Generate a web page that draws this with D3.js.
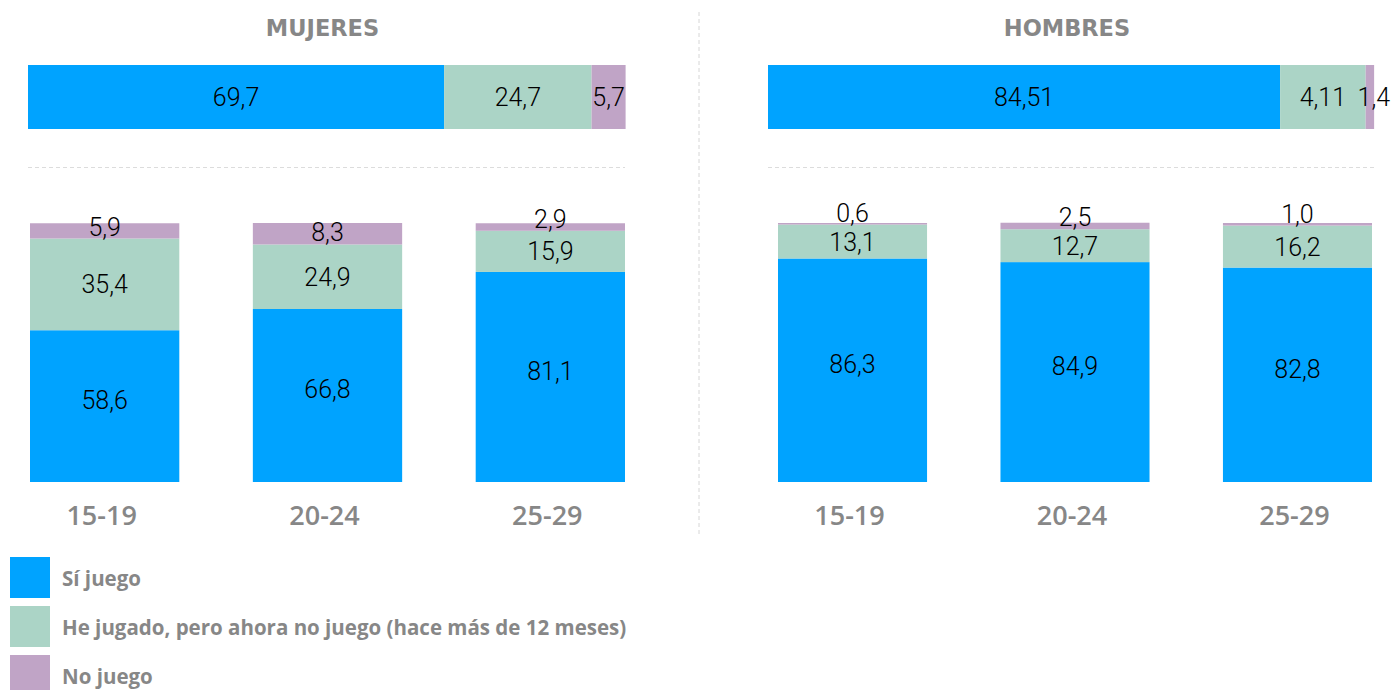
<!DOCTYPE html>
<html><head><meta charset="utf-8">
<script src="https://cdn.jsdelivr.net/npm/d3@7"></script>
<style>body{margin:0;background:#fff}svg{display:block}</style>
</head><body><svg id="c" width="1392" height="690"></svg>
<script>
const series = ["Sí juego", "He jugado, pero ahora no juego (hace más de 12 meses)", "No juego"];
const colors = ["#00A3FF", "#ABD4C6", "#C0A4C6"];
const ageGroups = ["15-19", "20-24", "25-29"];
const panels = ["MUJERES", "HOMBRES"];
const mujeresTotal = [69.7, 24.7, 5.7];
const hombresTotal = [84.51, 14.11, 1.4];
const mujeresTotalLabels = ["69,7", "24,7", "5,7"];
const hombresTotalLabels = ["84,51", "4,11", "1,4"];
const mujeresSi = [58.6, 66.8, 81.1];
const mujeresHe = [35.4, 24.9, 15.9];
const mujeresNo = [5.9, 8.3, 2.9];
const hombresSi = [86.3, 84.9, 82.8];
const hombresHe = [13.1, 12.7, 16.2];
const hombresNo = [0.6, 2.5, 1.0];

const svg = d3.select("#c");
const grey = "#878787";
const valFont = "Roboto, 'Liberation Sans', sans-serif";
const boldFont = "'Open Sans', 'Liberation Sans', sans-serif";
const titleFont = "'DejaVu Sans', 'Open Sans', sans-serif";
const fmt = v => d3.format(".1f")(v).replace(".", ",");

const panelData = [
  {title: panels[0], total: mujeresTotal, totalLabels: mujeresTotalLabels, si: mujeresSi, he: mujeresHe, no: mujeresNo, topRange: [28, 625], bandRange: [30, 625]},
  {title: panels[1], total: hombresTotal, totalLabels: hombresTotalLabels, si: hombresSi, he: hombresHe, no: hombresNo, topRange: [768, 1374], bandRange: [778, 1372]}
];

// divider
svg.append("line").attr("x1", 699).attr("x2", 699).attr("y1", 12).attr("y2", 535)
  .attr("stroke", "#d6d6d6").attr("stroke-width", 1).attr("stroke-dasharray", "4,3");

const y = d3.scaleLinear().domain([0, 100]).range([482, 223]);

panelData.forEach(p => {
  const g = svg.append("g");
  const xt = d3.scaleLinear().domain([0, 100]).range(p.topRange);
  // title
  g.append("text").attr("x", (p.topRange[0] + p.topRange[1]) / 2 - 4).attr("y", 36)
    .attr("text-anchor", "middle").attr("font-family", titleFont).attr("font-weight", 700)
    .attr("font-size", 22.5).attr("fill", grey).text(p.title);
  // top stacked bar
  let acc = 0;
  const segs = p.total.map((v, i) => { const s = {x0: acc, x1: acc + v, i, label: p.totalLabels[i]}; acc += v; return s; });
  g.selectAll("rect.top").data(segs).join("rect").attr("class", "top")
    .attr("x", d => xt(d.x0)).attr("width", d => xt(d.x1) - xt(d.x0))
    .attr("y", 65).attr("height", 64).attr("fill", d => colors[d.i]);
  g.selectAll("text.top").data(segs).join("text").attr("class", "top")
    .attr("x", d => (xt(d.x0) + xt(d.x1)) / 2 + (d.i === 2 && d.x1 - d.x0 < 3 ? 4 : 0)).attr("y", 106)
    .attr("text-anchor", "middle").attr("font-family", valFont).attr("font-weight", 300)
    .attr("font-size", 25).attr("fill", "#000").text(d => d.label);
  // dashed separator
  g.append("line").attr("x1", p.topRange[0]).attr("x2", p.topRange[1]).attr("y1", 167.5).attr("y2", 167.5)
    .attr("stroke", "#dcdcdc").attr("stroke-dasharray", "4,3");

  // vertical stacked bars
  const x = d3.scaleBand().domain(ageGroups).range(p.bandRange).paddingInner(0.33).paddingOuter(0);
  const rows = ageGroups.map((a, i) => ({age: a, s0: p.si[i], s1: p.he[i], s2: p.no[i]}));
  const stack = d3.stack().keys(["s0", "s1", "s2"])(rows);
  stack.forEach((layer, li) => {
    g.selectAll(null).data(layer).join("rect")
      .attr("x", d => x(d.data.age)).attr("width", x.bandwidth())
      .attr("y", d => y(d[1])).attr("height", d => y(d[0]) - y(d[1]))
      .attr("fill", colors[li]);
  });
  stack.forEach((layer, li) => {
    g.selectAll(null).data(layer).join("text")
      .attr("x", d => x(d.data.age) + x.bandwidth() / 2)
      .attr("y", d => {
        const top = y(d[1]), bot = y(d[0]);
        const c = (top + bot) / 2 + 9 - (li === 0 ? 6 : 0);
        return Math.min(c, bot - 3);
      })
      .attr("text-anchor", "middle").attr("font-family", valFont).attr("font-weight", 300)
      .attr("font-size", 25).attr("fill", "#000").text(d => fmt(d[1] - d[0]));
  });
  // category labels
  g.selectAll(null).data(ageGroups).join("text")
    .attr("x", d => x(d) + x.bandwidth() / 2 - 3).attr("y", 525)
    .attr("text-anchor", "middle").attr("font-family", boldFont).attr("font-weight", 600)
    .attr("font-size", 27).attr("fill", grey).text(d => d);
});

// legend
const leg = svg.append("g");
series.forEach((s, i) => {
  leg.append("rect").attr("x", 10).attr("y", 557 + i * 49).attr("width", 40).attr("height", 41).attr("fill", colors[i]);
  leg.append("text").attr("x", 62).attr("y", 586 + i * 49).attr("font-family", boldFont).attr("font-weight", 700)
    .attr("font-size", 20.5).attr("fill", grey).text(s);
});
</script></body></html>
